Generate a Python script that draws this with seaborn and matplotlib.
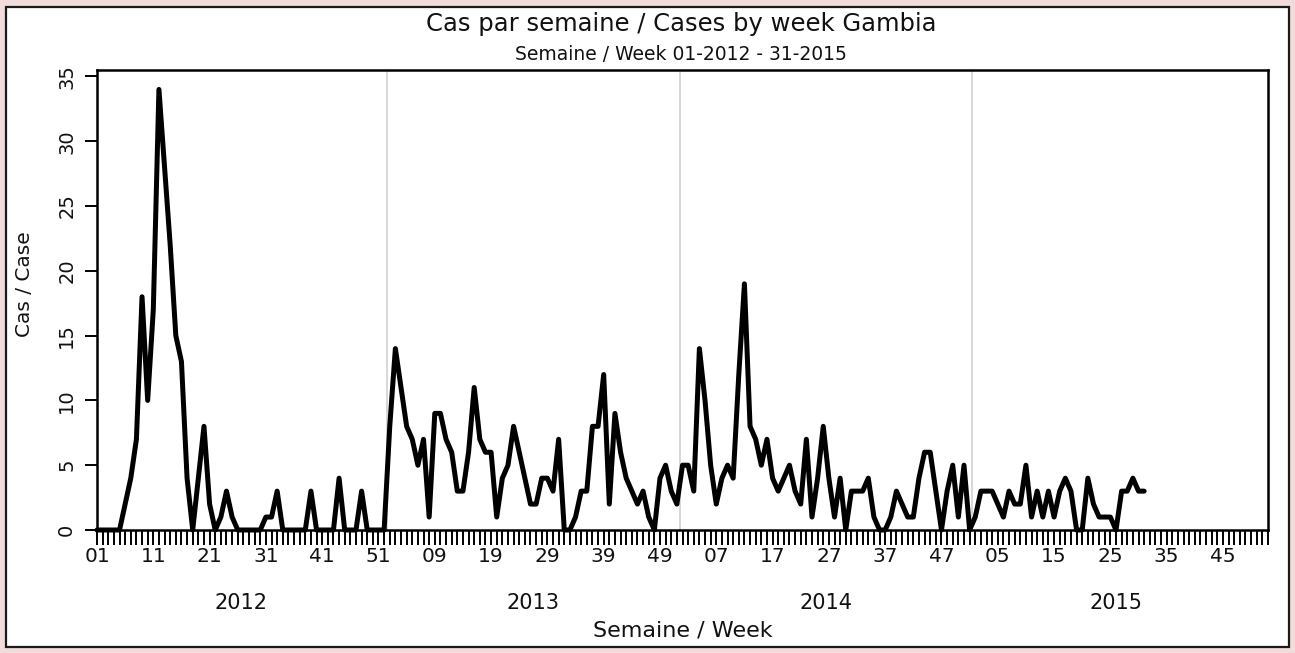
import numpy as np
import pandas as pd
import matplotlib
matplotlib.use("Agg")
import matplotlib.pyplot as plt
import seaborn as sns
from matplotlib.patches import Rectangle
from matplotlib.transforms import blended_transform_factory

# ---------------- data ----------------
years = [2012, 2013, 2014, 2015]
weeks_per_year = [52, 52, 52, 53]

cases_2012 = [0, 0, 0, 0, 0, 2, 4, 7, 18, 10, 17, 34, 28, 22, 15, 13, 4, 0, 4, 8,
              2, 0, 1, 3, 1, 0, 0, 0, 0, 0, 1, 1, 3, 0, 0, 0, 0, 0, 3, 0,
              0, 0, 0, 4, 0, 0, 0, 3, 0, 0, 0, 0]
cases_2013 = [8, 14, 11, 8, 7, 5, 7, 1, 9, 9, 7, 6, 3, 3, 6, 11, 7, 6, 6, 1,
              4, 5, 8, 6, 4, 2, 2, 4, 4, 3, 7, 0, 0, 1, 3, 3, 8, 8, 12, 2,
              9, 6, 4, 3, 2, 3, 1, 0, 4, 5, 3, 2]
cases_2014 = [5, 5, 3, 14, 10, 5, 2, 4, 5, 4, 12, 19, 8, 7, 5, 7, 4, 3, 4, 5,
              3, 2, 7, 1, 4, 8, 4, 1, 4, 0, 3, 3, 3, 4, 1, 0, 0, 1, 3, 2,
              1, 1, 4, 6, 6, 3, 0, 3, 5, 1, 5, 0]
cases_2015 = [1, 3, 3, 3, 2, 1, 3, 2, 2, 5, 1, 3, 1, 3, 1, 3, 4, 3, 0, 0,
              4, 2, 1, 1, 1, 0, 3, 3, 4, 3, 3]

tick_labels = ["01", "11", "21", "31", "41", "51", "09", "19", "29", "39", "49",
               "07", "17", "27", "37", "47", "05", "15", "25", "35", "45"]
year_labels = ["2012", "2013", "2014", "2015"]

title = "Cas par semaine / Cases by week Gambia"
subtitle = "Semaine / Week 01-2012 - 31-2015"
xlabel = "Semaine / Week"
ylabel = "Cas / Case"

# ---------------- table ----------------
rows = []
offset = 0
starts = []
for yr, nweeks, vals in zip(years, weeks_per_year,
                            [cases_2012, cases_2013, cases_2014, cases_2015]):
    starts.append(offset)
    for w, v in enumerate(vals):
        rows.append({"idx": offset + w, "year": yr, "week": w + 1, "cases": v})
    offset += nweeks
total_weeks = offset
df = pd.DataFrame(rows)

# ---------------- figure ----------------
sns.set_theme(style="white")
plt.rcParams["font.family"] = ["DejaVu Sans"]

W, H = 1295, 653
fig = plt.figure(figsize=(W / 100, H / 100), dpi=100)
fig.patch.set_facecolor("#F2DCDB")
fig.add_artist(Rectangle((6 / W, 6 / H), (W - 12) / W, (H - 13) / H,
                         transform=fig.transFigure, facecolor="white",
                         edgecolor="#1a1a1a", linewidth=1.6, zorder=-5))

ax = fig.add_axes([97 / W, (H - 530) / H, (1268 - 97) / W, (530 - 70) / H])
ax.set_facecolor("white")

# year separators
for s in starts[1:]:
    ax.axvline(s - 0.5, color="#d4d4d4", linewidth=1.3, zorder=1)

sns.lineplot(data=df, x="idx", y="cases", color="black", linewidth=3.6,
             ax=ax, zorder=3, clip_on=False)

ax.set_xlim(0, total_weeks - 1)
ax.set_ylim(0, 35.5)

# x ticks: one per week, labels every 10 weeks
xt = np.arange(total_weeks)
xl = [""] * total_weeks
for k, lab in enumerate(tick_labels):
    xl[k * 10] = lab
ax.set_xticks(xt)
ax.set_xticklabels(xl)
ax.tick_params(axis="x", direction="out", length=11, width=1.4, color="black",
               pad=1, labelsize=14.5, bottom=True, labelcolor="#111111")

ax.set_yticks(np.arange(0, 36, 5))
ax.tick_params(axis="y", direction="out", length=9, width=1.4, color="black",
               pad=6, labelsize=14, left=True, labelrotation=90,
               labelcolor="#111111")
for lab in ax.get_yticklabels():
    lab.set_va("center")

for sp in ax.spines.values():
    sp.set_visible(True)
    sp.set_color("black")
    sp.set_linewidth(1.8)

# year labels under the axis
trans = blended_transform_factory(ax.transData, ax.transAxes)
year_centers = [25.5, 77.5, 129.5, 181.0]
for xc, lab in zip(year_centers, year_labels):
    ax.text(xc, -0.159, lab, transform=trans, ha="center", va="center",
            fontsize=15, color="#111111")

ax.set_xlabel(xlabel, fontsize=16, color="#111111")
ax.xaxis.set_label_coords(0.5, -0.196)
ax.xaxis.label.set_va("top")
ax.set_ylabel(ylabel, fontsize=14.5, color="#111111")
ax.yaxis.set_label_coords(-0.0615, 0.535)
ax.yaxis.label.set_va("center")

fig.text(681 / W, 1 - 24 / H, title, ha="center", va="center",
         fontsize=17.5, color="#111111")
fig.text(681 / W, 1 - 55 / H, subtitle, ha="center", va="center",
         fontsize=13.5, color="#111111")

fig.savefig("out.png", dpi=100, facecolor=fig.get_facecolor())
